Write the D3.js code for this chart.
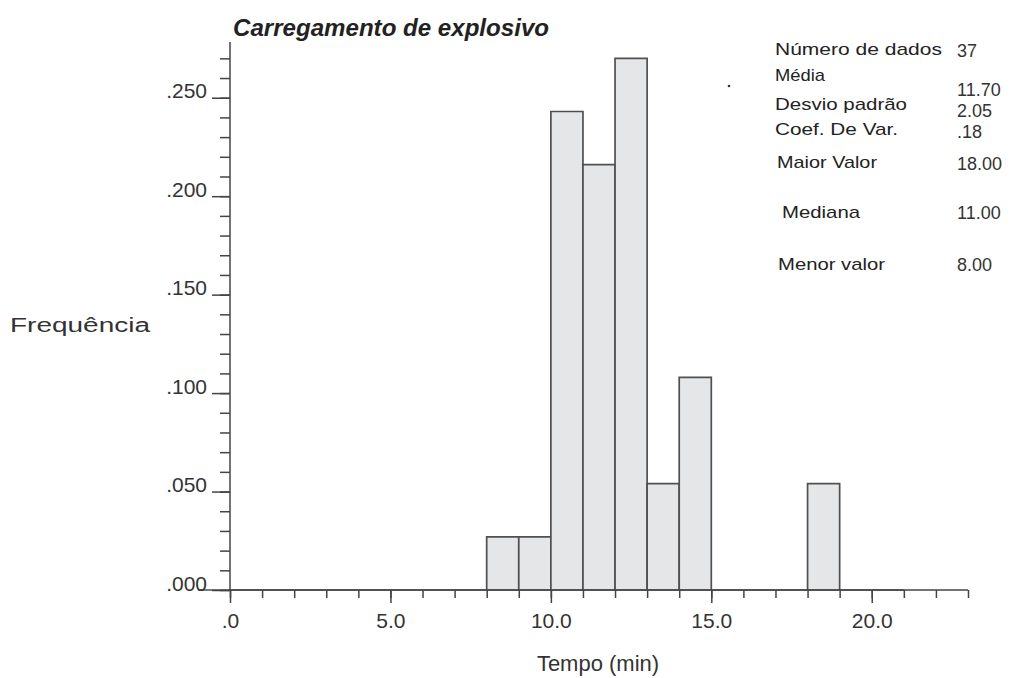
<!DOCTYPE html>
<html>
<head>
<meta charset="utf-8">
<script src="https://cdn.jsdelivr.net/npm/d3@7"></script>
<style>
  body { margin: 0; background: #fff; }
  text { font-family: "Liberation Sans", Arial, sans-serif; fill: #222; }
</style>
</head>
<body>
<script>
// histogram bins (start of each 1-min bin) and relative frequencies
var binStarts = [-1, 0, 1, 2, 3, 4, 5, 6, 7, 8, 9, 10, 11, 12, 13, 14, 15, 16, 17, 18, 19, 20];
var binFreqs  = [0, 0, 0, 0, 0, 0, 0, 0, 0, 0.027, 0.027, 0.243, 0.216, 0.270, 0.054, 0.108, 0, 0, 0, 0.054, 0, 0];
var binWidth = 1;

var xMajorTicks = [0, 5, 10, 15, 20];
var yMajorTicks = [0, 0.05, 0.10, 0.15, 0.20, 0.25];

var statLabels = ["Número de dados", "Média", "Desvio padrão", "Coef. De Var.", "Maior Valor", "Mediana", "Menor valor"];
var statValues = ["37", "11.70", "2.05", ".18", "18.00", "11.00", "8.00"];

// layout of the stats block (label y, value y, label x, label width)
var statLabelY = [55, 81, 110, 135, 168, 218, 270];
var statValueY = [57, 96, 117, 138, 170, 219, 271];
var statLabelX = [775, 775, 775, 775, 777, 782, 778];
var statLabelW = [167, 50, 132, 123, 100, 78, 107];

var svgWidth = 1013;
var svgHeight = 678;

var svg = d3.select("body")
  .append("svg")
    .attr("width", svgWidth)
    .attr("height", svgHeight);

var x = d3.scaleLinear().domain([0, 23]).range([230, 968]);
var y = d3.scaleLinear().domain([0, 0.2783]).range([590, 42]);

// bars (zero bins become a line along the base)
var bars = binStarts.map(function(s, i) { return { x0: s, x1: s + binWidth, f: binFreqs[i] }; });
svg.append("g")
  .selectAll("path")
  .data(bars)
  .enter()
  .append("path")
    .attr("d", function(d) {
      return "M" + x(d.x0) + "," + y(0) + "V" + y(d.f) + "H" + x(d.x1) + "V" + y(0) + "Z";
    })
    .style("fill", "#e5e6e8")
    .style("stroke", "#505050")
    .style("stroke-width", 1.7);

// y axis: minor then major ticks
var yMinor = d3.range(0, 28).map(function(i) { return i / 100; });
svg.append("g")
  .attr("transform", "translate(" + x(0) + ",0)")
  .call(d3.axisLeft(y).tickValues(yMinor).tickSize(10).tickFormat(""))
  .call(function(g) { g.select(".domain").remove(); });

var yAxis = svg.append("g")
  .attr("transform", "translate(" + x(0) + ",0)")
  .call(d3.axisLeft(y).tickValues(yMajorTicks).tickSize(18).tickPadding(5)
    .tickFormat(function(d) { return d3.format(".3f")(d).replace(/^0/, ""); }));
yAxis.select(".domain").remove();
yAxis.selectAll("text").attr("dy", "0").style("font-size", "21px")
  .style("font-family", "'Liberation Sans', Arial, sans-serif").style("fill", "#333");

svg.append("line")
  .attr("x1", x(0)).attr("x2", x(0))
  .attr("y1", y(0)).attr("y2", y(0.2783))
  .style("stroke", "#444").style("stroke-width", 1.5);

// x axis: minor then major ticks
var xMinor = d3.range(0, 24);
svg.append("g")
  .attr("transform", "translate(0," + y(0) + ")")
  .call(d3.axisBottom(x).tickValues(xMinor).tickSize(8).tickFormat(""))
  .call(function(g) { g.select(".domain").remove(); });

var xAxis = svg.append("g")
  .attr("transform", "translate(0," + y(0) + ")")
  .call(d3.axisBottom(x).tickValues(xMajorTicks).tickSize(13).tickPadding(10)
    .tickFormat(function(d) { return d3.format(".1f")(d).replace(/^0/, ""); }));
xAxis.select(".domain").remove();
xAxis.selectAll("text").style("font-size", "21px")
  .style("font-family", "'Liberation Sans', Arial, sans-serif").style("fill", "#333");

svg.append("line")
  .attr("x1", x(0)).attr("x2", x(23))
  .attr("y1", y(0)).attr("y2", y(0))
  .style("stroke", "#444").style("stroke-width", 1.5);

svg.selectAll(".tick line").style("stroke", "#444").style("stroke-width", 1.5);

// title
svg.append("text")
  .attr("x", 233)
  .attr("y", 36)
  .attr("textLength", 316)
  .attr("lengthAdjust", "spacingAndGlyphs")
  .style("font-size", "23px")
  .style("font-weight", "bold")
  .style("font-style", "italic")
  .text("Carregamento de explosivo");

// axis titles
svg.append("text")
  .attr("x", 10)
  .attr("y", 332)
  .attr("textLength", 140)
  .attr("lengthAdjust", "spacingAndGlyphs")
  .style("font-size", "20px")
  .style("fill", "#333")
  .text("Frequência");

svg.append("text")
  .attr("x", 598)
  .attr("y", 671)
  .attr("text-anchor", "middle")
  .style("font-size", "22px")
  .style("fill", "#333")
  .text("Tempo (min)");

// stats block
var stats = svg.append("g");
statLabels.forEach(function(lbl, i) {
  stats.append("text")
    .attr("x", statLabelX[i])
    .attr("y", statLabelY[i])
    .attr("textLength", statLabelW[i])
    .attr("lengthAdjust", "spacingAndGlyphs")
    .style("font-size", "17px")
    .style("fill", "#222")
    .text(lbl);
  stats.append("text")
    .attr("x", 957)
    .attr("y", statValueY[i])
    .style("font-size", "18px")
    .style("fill", "#333")
    .text(statValues[i]);
});

// stray dot
svg.append("circle")
  .attr("cx", 729).attr("cy", 86).attr("r", 1.3)
  .style("fill", "#333");
</script>
</body>
</html>
